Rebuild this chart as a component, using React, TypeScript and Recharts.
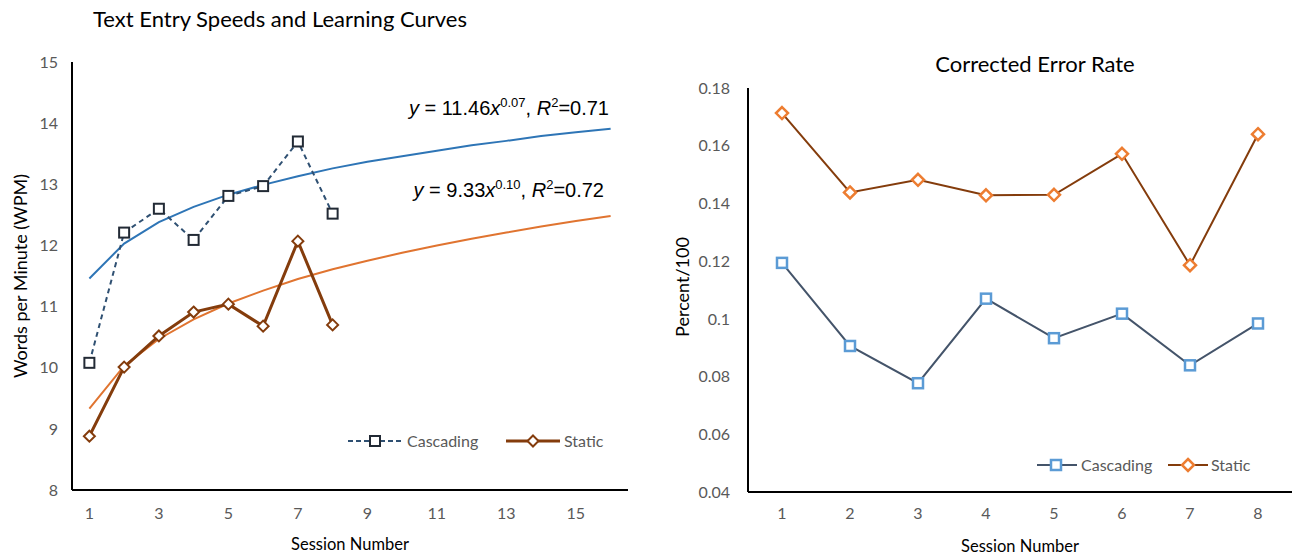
import React from 'react';
import { LineChart, Line, XAxis, YAxis } from 'recharts';

const sessionsWpm = [1, 2, 3, 4, 5, 6, 7, 8, 9, 10, 11, 12, 13, 14, 15, 16];
const cascadingWpm = [10.08, 12.21, 12.6, 12.09, 12.81, 12.97, 13.7, 12.52];
const staticWpm = [8.88, 10.01, 10.52, 10.91, 11.04, 10.68, 12.07, 10.7];
const cascadingTrend = [11.46, 12.03, 12.38, 12.63, 12.83, 12.99, 13.13, 13.26, 13.37, 13.46, 13.55, 13.64, 13.71, 13.79, 13.85, 13.91];
const staticTrend = [9.33, 10.03, 10.47, 10.79, 11.05, 11.26, 11.45, 11.61, 11.75, 11.88, 12.0, 12.11, 12.21, 12.31, 12.4, 12.48];
const wpmTicks = [8, 9, 10, 11, 12, 13, 14, 15];
const wpmXTicks = [1, 3, 5, 7, 9, 11, 13, 15];

const sessionsErr = [1, 2, 3, 4, 5, 6, 7, 8];
const cascadingErr = [0.1194, 0.0906, 0.0777, 0.107, 0.0933, 0.1018, 0.0839, 0.0984];
const staticErr = [0.1713, 0.1438, 0.1482, 0.1428, 0.143, 0.1572, 0.1186, 0.164];
const errTicks = [0.04, 0.06, 0.08, 0.1, 0.12, 0.14, 0.16, 0.18];

const wpmData = sessionsWpm.map((s, i) => ({
  session: s,
  cascading: cascadingWpm[i],
  static: staticWpm[i],
  cascadingFit: cascadingTrend[i],
  staticFit: staticTrend[i],
}));
const errData = sessionsErr.map((s, i) => ({ session: s, cascading: cascadingErr[i], static: staticErr[i] }));

const FONT = "Lato, 'Open Sans', sans-serif";
const GRAY = '#595959';

const makeSquare = (stroke: string, size: number, sw: number) => (p: any) => {
  if (p.cx == null || p.cy == null || p.value == null) return <g key={p.index} />;
  return (
    <rect key={p.index} x={p.cx - size / 2} y={p.cy - size / 2} width={size} height={size}
      fill="#fff" stroke={stroke} strokeWidth={sw} />
  );
};
const makeDiamond = (stroke: string, r: number, sw: number) => (p: any) => {
  if (p.cx == null || p.cy == null || p.value == null) return <g key={p.index} />;
  const { cx, cy } = p;
  return (
    <path key={p.index} d={`M${cx},${cy - r}L${cx + r},${cy}L${cx},${cy + r}L${cx - r},${cy}Z`}
      fill="#fff" stroke={stroke} strokeWidth={sw} />
  );
};

const tickStyle = { fill: GRAY, fontSize: 16, fontFamily: FONT };

export default function App() {
  return (
    <div style={{ position: 'absolute', left: 0, top: 0, width: 1297, height: 557, background: '#fff' }}>
      <div style={{ position: 'absolute', left: 0, top: 0 }}>
        <LineChart width={650} height={557} data={wpmData} margin={{ top: 62, right: 22, left: 0, bottom: 37 }}>
          <XAxis dataKey="session" type="number" domain={[0.5, 16.5]} ticks={wpmXTicks} allowDataOverflow
            tickLine={false} axisLine={{ stroke: '#000', strokeWidth: 2 }} tick={tickStyle} tickMargin={12} height={30} />
          <XAxis xAxisId="top" orientation="top" type="number" domain={[0.5, 16.5]} tick={false} tickLine={false}
            axisLine={{ stroke: '#000', strokeWidth: 2 }} height={0} />
          <YAxis type="number" domain={[8, 15]} ticks={wpmTicks} tickLine={false}
            axisLine={{ stroke: '#000', strokeWidth: 2 }} tick={tickStyle} tickMargin={8} width={72} />
          <YAxis yAxisId="right" orientation="right" type="number" domain={[8, 15]} tick={false} tickLine={false}
            axisLine={{ stroke: '#000', strokeWidth: 2 }} width={0} />
          <Line dataKey="cascadingFit" stroke="#2E75B6" strokeWidth={2} dot={false} isAnimationActive={false} legendType="none" />
          <Line dataKey="staticFit" stroke="#E07430" strokeWidth={2} dot={false} isAnimationActive={false} legendType="none" />
          <Line dataKey="cascading" name="Cascading" stroke="#2F5072" strokeWidth={2} strokeDasharray="5 4"
            dot={makeSquare('#222A35', 10, 2)} isAnimationActive={false} />
          <Line dataKey="static" name="Static" stroke="#843C0C" strokeWidth={3}
            dot={makeDiamond('#843C0C', 5.5, 2)} isAnimationActive={false} />
        </LineChart>
      </div>
      <div style={{ position: 'absolute', left: 650, top: 0 }}>
        <LineChart width={647} height={557} data={errData} margin={{ top: 88, right: 5, left: 0, bottom: 35 }}>
          <XAxis dataKey="session" type="number" domain={[0.5, 8.5]} ticks={sessionsErr} allowDataOverflow
            tickLine={false} axisLine={{ stroke: '#000', strokeWidth: 2 }} tick={tickStyle} tickMargin={10} height={30} />
          <XAxis xAxisId="top" orientation="top" type="number" domain={[0.5, 8.5]} tick={false} tickLine={false}
            axisLine={{ stroke: '#000', strokeWidth: 2 }} height={0} />
          <YAxis type="number" domain={[0.04, 0.18]} ticks={errTicks} tickLine={false}
            axisLine={{ stroke: '#000', strokeWidth: 2 }} tick={tickStyle} tickMargin={12} width={98}
            tickFormatter={(v: number) => String(v)} />
          <YAxis yAxisId="right" orientation="right" type="number" domain={[0.04, 0.18]} tick={false} tickLine={false}
            axisLine={{ stroke: '#000', strokeWidth: 2 }} width={0} />
          <Line dataKey="cascading" name="Cascading" stroke="#44546A" strokeWidth={2}
            dot={makeSquare('#5B9BD5', 10, 2.5)} isAnimationActive={false} />
          <Line dataKey="static" name="Static" stroke="#843C0C" strokeWidth={2}
            dot={makeDiamond('#ED7D31', 6, 2.5)} isAnimationActive={false} />
        </LineChart>
      </div>
      <svg width={1297} height={557} style={{ position: 'absolute', left: 0, top: 0, pointerEvents: 'none' }}>
        <g fontFamily={FONT}>
          <text x={93} y={27} fontSize={22} fill="#000">Text Entry Speeds and Learning Curves</text>
          <text x={1035} y={72} fontSize={22} fill="#000" textAnchor="middle">Corrected Error Rate</text>
          <text x={350} y={550} fontSize={16.5} fill="#000" textAnchor="middle">Session Number</text>
          <text x={1020} y={552} fontSize={16.5} fill="#000" textAnchor="middle">Session Number</text>
          <text transform="translate(27,276) rotate(-90)" fontSize={18} fill="#000" textAnchor="middle">Words per Minute (WPM)</text>
          <text transform="translate(689,287) rotate(-90)" fontSize={18} fill="#000" textAnchor="middle">Percent/100</text>
        </g>
        <g fontFamily="'Liberation Sans', Arial, sans-serif" fontSize={20} fill="#000">
          <text x={609} y={115} textAnchor="end">
            <tspan fontStyle="italic">y</tspan> = 11.46<tspan fontStyle="italic">x</tspan>
            <tspan fontSize={13} dy={-8}>0.07</tspan><tspan dy={8}>, </tspan>
            <tspan fontStyle="italic">R</tspan><tspan fontSize={13} dy={-8}>2</tspan><tspan dy={8}>=0.71</tspan>
          </text>
          <text x={604} y={197} textAnchor="end">
            <tspan fontStyle="italic">y</tspan> = 9.33<tspan fontStyle="italic">x</tspan>
            <tspan fontSize={13} dy={-8}>0.10</tspan><tspan dy={8}>, </tspan>
            <tspan fontStyle="italic">R</tspan><tspan fontSize={13} dy={-8}>2</tspan><tspan dy={8}>=0.72</tspan>
          </text>
        </g>
        <g fontFamily={FONT} fontSize={16} fill={GRAY}>
          <line x1={348} y1={441} x2={402} y2={441} stroke="#2F5072" strokeWidth={2} strokeDasharray="5 3" />
          <rect x={370} y={436} width={10} height={10} fill="#fff" stroke="#222A35" strokeWidth={2} />
          <text x={407} y={447}>Cascading</text>
          <line x1={506} y1={441} x2={560} y2={441} stroke="#843C0C" strokeWidth={3} />
          <path d="M533,435.5L538.5,441L533,446.5L527.5,441Z" fill="#fff" stroke="#843C0C" strokeWidth={2} />
          <text x={564} y={447}>Static</text>
          <line x1={1037} y1={465} x2={1077} y2={465} stroke="#44546A" strokeWidth={2} />
          <rect x={1051} y={460} width={10} height={10} fill="#fff" stroke="#5B9BD5" strokeWidth={2.5} />
          <text x={1081} y={471}>Cascading</text>
          <line x1={1168} y1={465} x2={1208} y2={465} stroke="#843C0C" strokeWidth={2} />
          <path d="M1188,459L1194,465L1188,471L1182,465Z" fill="#fff" stroke="#ED7D31" strokeWidth={2.5} />
          <text x={1211} y={471}>Static</text>
        </g>
      </svg>
    </div>
  );
}
